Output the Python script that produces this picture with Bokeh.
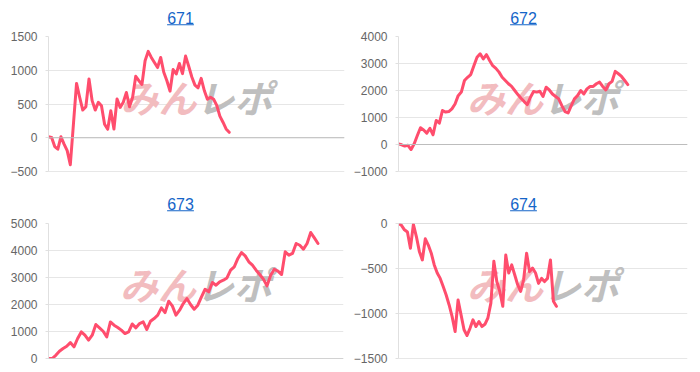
from bokeh.plotting import figure
from bokeh.models import Range1d, FixedTicker, Span
from bokeh.layouts import column, row
from bokeh.embed import file_html
from bokeh.resources import INLINE
from bokeh.core.properties import value

titles = ["671", "672", "673", "674"]

s671 = [15, 5, -130, -170, 15, -95, -190, -400, 200, 805, 600, 410, 460, 870, 550,
        410, 525, 475, 200, 125, 400, 130, 575, 450, 525, 670, 460, 600, 910, 845,
        790, 1140, 1280, 1190, 1115, 1040, 1190, 970, 845, 690, 1010, 945, 1100, 950,
        1210, 1060, 900, 780, 740, 880, 700, 570, 600, 570, 480, 320, 230, 130, 80]

s672 = [25, -10, -60, -30, -185, 25, 330, 620, 540, 420, 600, 360, 890, 790, 1260,
        1200, 1220, 1320, 1500, 1810, 1940, 2370, 2490, 2590, 2920, 3230, 3360, 3170,
        3330, 3110, 2920, 2820, 2680, 2490, 2370, 2250, 2150, 2000, 1850, 1710, 1590,
        1480, 1750, 1960, 1940, 1970, 1780, 2120, 2020, 1870, 1780, 1690, 1440, 1220,
        1170, 1440, 1690, 1810, 2000, 1870, 2060, 2150, 2150, 2250, 2310, 2150, 2020,
        2250, 2340, 2710, 2620, 2520, 2370, 2220]

s673 = [0, 0, 120, 270, 370, 455, 590, 430, 740, 985, 865, 680, 865, 1260, 1135,
        1010, 800, 1355, 1235, 1150, 1050, 925, 985, 1280, 1135, 1295, 1355, 1075,
        1380, 1480, 1605, 1875, 1700, 2120, 1950, 1605, 1790, 2035, 2220, 2000, 1825,
        1975, 2280, 2565, 2470, 2815, 2715, 2840, 2900, 2985, 3270, 3395, 3705, 3925,
        3800, 3580, 3455, 3270, 3110, 2940, 2690, 3085, 3305, 3235, 3110, 3950, 3825,
        3890, 4260, 4195, 4050, 4260, 4665, 4465, 4260]

s674 = [0, -20, -70, -95, -275, -10, -145, -310, -405, -170, -240, -330, -460, -550,
        -610, -700, -795, -905, -1035, -1200, -850, -1015, -1180, -1245, -1165, -1070,
        -1145, -1090, -1145, -1120, -1050, -885, -420, -645, -755, -920, -350, -550,
        -460, -570, -680, -755, -625, -330, -535, -495, -550, -665, -610, -645, -610,
        -405, -865, -920]

ticks_671 = [-500, 0, 500, 1000, 1500]
ticks_672 = [-1000, 0, 1000, 2000, 3000, 4000]
ticks_673 = [0, 1000, 2000, 3000, 4000, 5000]
ticks_674 = [-1500, -1000, -500, 0]

x_slots = [95, 92, 81, 97]

LINE = "#ff4d6d"
TITLE = "#1565c8"
GRID = "#e6e6e6"
ZERO = "#bdbdbd"
FONT = "Liberation Sans"

W = 350
HEAD_H = 30
BODY_H = 156


def header(name, cx):
    h = figure(width=W, height=HEAD_H, output_backend="svg", toolbar_location=None,
               x_range=Range1d(0, W), y_range=Range1d(HEAD_H, 0),
               min_border_left=0, min_border_right=0, min_border_top=0,
               min_border_bottom=0)
    h.axis.visible = False
    h.grid.visible = False
    h.outline_line_color = None
    h.border_fill_color = "white"
    h.text(x=[cx], y=[17.0], text=[name], text_align="center",
           text_baseline="middle", text_font=value(FONT),
           text_font_size="16px", text_color=TITLE)
    h.segment(x0=[cx - 13.4], y0=[24.3], x1=[cx + 13.4], y1=[24.3],
              line_color=TITLE, line_width=1.1)
    return h


def body(vals, ticks, slots, left, right, top, bottom):
    lo, hi = min(ticks), max(ticks)
    p = figure(width=W, height=BODY_H, output_backend="svg", toolbar_location=None,
               x_range=Range1d(0, slots), y_range=Range1d(lo, hi),
               min_border_left=left, min_border_right=right,
               min_border_top=top, min_border_bottom=bottom)
    p.outline_line_color = None
    p.background_fill_color = "white"
    p.border_fill_color = "white"

    p.xaxis.visible = False
    p.xgrid.visible = False
    yax = p.yaxis[0]
    yax.ticker = FixedTicker(ticks=ticks)
    yax.axis_line_color = "#e0e0e0"
    yax.major_tick_line_color = "#e0e0e0"
    yax.major_tick_out = 3
    yax.major_tick_in = 0
    yax.minor_tick_line_color = None
    yax.major_label_standoff = 8
    yax.major_label_text_font = FONT
    yax.major_label_text_font_size = "12px"
    yax.major_label_text_color = "#666666"
    p.ygrid.ticker = FixedTicker(ticks=ticks)
    p.ygrid.grid_line_color = GRID

    # watermark
    xm = slots / 2
    ym = (lo + hi) / 2
    p.text(x=[xm], y=[ym], text=["みん"], text_align="right", text_baseline="middle",
           text_font=value("Noto Sans CJK JP"), text_font_style="bold italic",
           text_font_size="38px", text_color="#f2bcbf", y_offset=-8)
    p.text(x=[xm], y=[ym], text=["レポ"], text_align="left", text_baseline="middle",
           text_font=value("Noto Sans CJK JP"), text_font_style="bold italic",
           text_font_size="38px", text_color="#bfbfbf", y_offset=-8)

    p.add_layout(Span(location=lo, dimension="width", line_color="#d0d0d0", line_width=1))
    p.add_layout(Span(location=0, dimension="width", line_color=ZERO, line_width=1))

    xs = list(range(len(vals)))
    p.line(xs, vals, line_color=LINE, line_width=3, line_join="round", line_cap="round")
    return p


h1 = header(titles[0], 180)
h2 = header(titles[1], 173)
h3 = header(titles[2], 180)
h4 = header(titles[3], 173)
p1 = body(s671, ticks_671, x_slots[0], 48, 6, 6, 15)
p2 = body(s672, ticks_672, x_slots[1], 44, 13, 6, 15)
p3 = body(s673, ticks_673, x_slots[2], 48, 7, 7, 14)
p4 = body(s674, ticks_674, x_slots[3], 44, 13, 7, 14)

layout = column(row(h1, h2), row(p1, p2), row(h3, h4), row(p3, p4))
open("out.html", "w").write(file_html(layout, INLINE))
